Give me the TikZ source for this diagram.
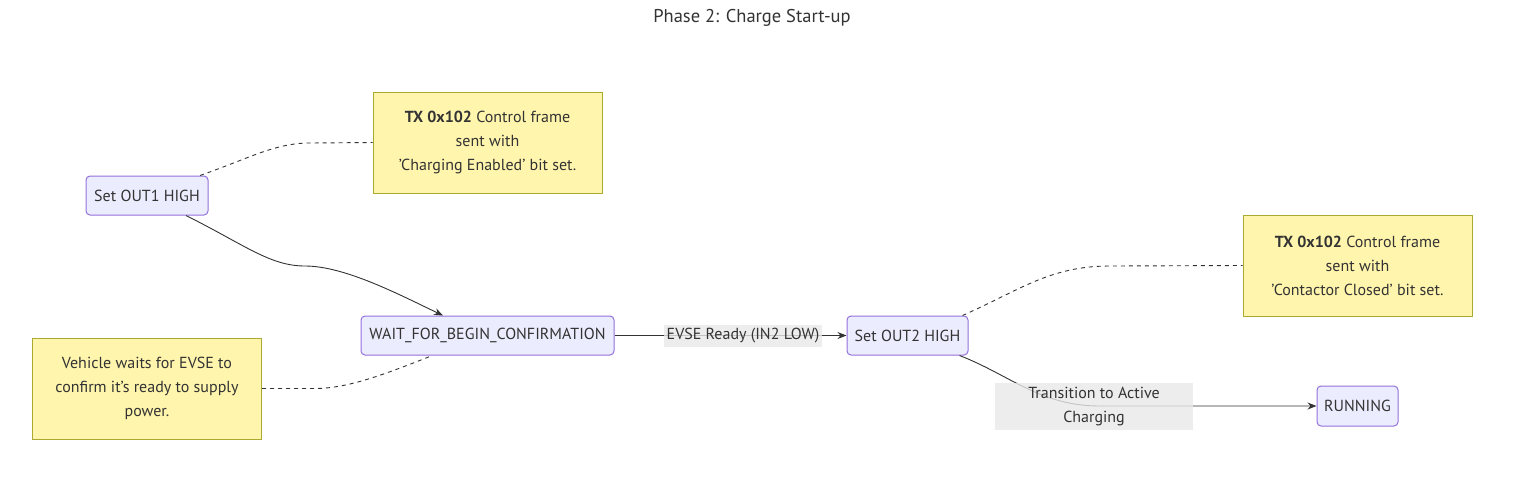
\documentclass[tikz,border=0pt]{standalone}
\usepackage{fontspec}
\setmainfont{PT Sans}
\usetikzlibrary{arrows.meta}
\definecolor{txt}{HTML}{333333}
\definecolor{nodefill}{HTML}{ECECFF}
\definecolor{nodeline}{HTML}{9370DB}
\definecolor{notefill}{HTML}{FFF5AD}
\definecolor{noteline}{HTML}{AAAA33}
\definecolor{lblfill}{HTML}{E8E8E8}
\newcommand{\sq}{{\char39}}
\tikzset{
  state/.style={draw=nodeline, fill=nodefill, rounded corners=4pt, line width=1pt,
    minimum height=39pt, inner xsep=0pt, text=txt, font=\fontsize{16}{19}\selectfont},
  note/.style={draw=noteline, fill=notefill, line width=1pt, minimum width=229pt,
    minimum height=101pt, align=center, text=txt, font=\fontsize{16}{24}\selectfont},
  edge/.style={draw=txt, line width=0.9pt, -{Stealth[length=9pt,width=7pt]}},
  notelink/.style={draw=txt, line width=0.9pt, dash pattern=on 4pt off 4pt},
  elabel/.style={fill=lblfill, fill opacity=0.8, text opacity=1, text=txt,
    font=\fontsize{16}{24}\selectfont, inner sep=0pt, align=center}
}
\begin{document}
\begin{tikzpicture}[x=1pt,y=-1pt]
\useasboundingbox (0,0) rectangle (1513,485);
\node[text=txt, font=\fontsize{18.5}{20}\selectfont] (title) at (752,18) {Phase 2: Charge Start-up};

\node[state, minimum width=122pt] (out1) at (147,195.5) {Set OUT1 HIGH};
\node[state, minimum width=253pt] (wait) at (487.5,335.5) {WAIT\_FOR\_BEGIN\_CONFIRMATION};
\node[state, minimum width=121pt] (out2) at (907.5,335.5) {Set OUT2 HIGH};
\node[state, minimum width=81pt, minimum height=40pt] (running) at (1357.5,406) {RUNNING};

\node[note] (note1) at (487.5,142.5) {\textbf{TX 0x102} Control frame\\sent with\\\sq Charging Enabled\sq{} bit set.};
\node[note] (note2) at (147,388.5) {Vehicle waits for EVSE to\\confirm it\sq s ready to supply\\power.};
\node[note] (note3) at (1357.5,265.5) {\textbf{TX 0x102} Control frame\\sent with\\\sq Contactor Closed\sq{} bit set.};

% note links
\draw[notelink] ([xshift=53pt]out1.north) .. controls (250,158) and (275,143) .. (310,143) -- (note1.west);
\draw[notelink] (note2.east) -- (315,388.5) .. controls (350,388.5) and (390,372) .. ([xshift=-55pt]wait.south);
\draw[notelink] ([xshift=55pt]out2.north) .. controls (1020,290) and (1050,266) .. (1110,266) -- (note3.west);

% transitions
\draw[edge] ([xshift=39pt]out1.south) .. controls (245,245) and (270,266) .. (305,266) .. controls (345,266) and (400,295) .. ([xshift=-44.5pt]wait.north);
\draw[edge] (wait.east) -- (out2.west);
\node[elabel, minimum width=158pt, minimum height=22pt] (l1) at (743,335.5) {EVSE Ready (IN2 LOW)};
\draw[edge] ([xshift=52pt]out2.south) .. controls (1010,375) and (1040,406) .. (1100,406) -- (running.west);
\node[elabel, minimum width=198pt, minimum height=47pt] (l2) at (1094,406.5) {Transition to Active\\Charging};
\end{tikzpicture}
\end{document}
